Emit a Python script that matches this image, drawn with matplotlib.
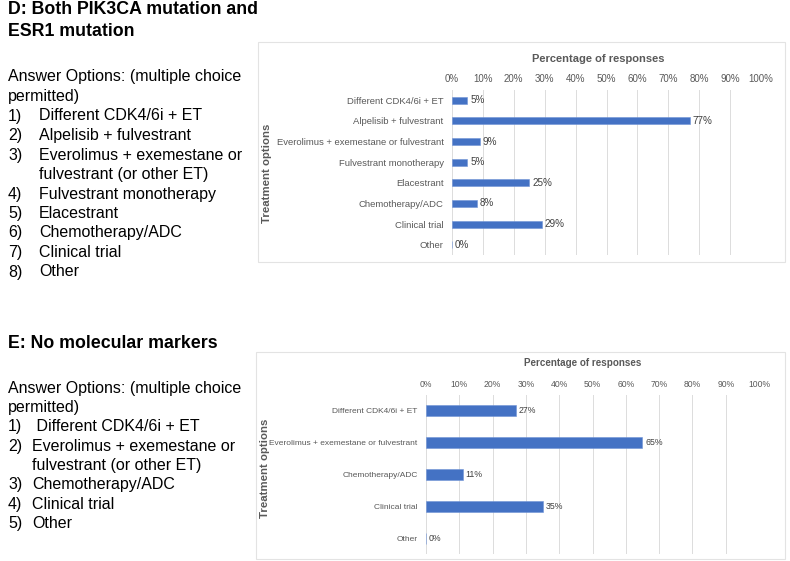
import matplotlib.pyplot as plt
from matplotlib.patches import Rectangle

plt.rcParams['font.family'] = ['Liberation Sans', 'DejaVu Sans']

# panel D data
d_options = ['Different CDK4/6i + ET', 'Alpelisib + fulvestrant',
             'Everolimus + exemestane or fulvestrant', 'Fulvestrant monotherapy',
             'Elacestrant', 'Chemotherapy/ADC', 'Clinical trial', 'Other']
d_pct = [5, 77, 9, 5, 25, 8, 29, 0]

# panel E data
e_options = ['Different CDK4/6i + ET', 'Everolimus + exemestane or fulvestrant',
             'Chemotherapy/ADC', 'Clinical trial', 'Other']
e_pct = [27, 65, 11, 35, 0]

x_ticks = list(range(0, 101, 10))

d_list = [('', 'Answer Options: (multiple choice'), ('', 'permitted)'),
          ('1)', 'Different CDK4/6i + ET'), ('2)', 'Alpelisib + fulvestrant'),
          ('3)', 'Everolimus + exemestane or'), ('', 'fulvestrant (or other ET)'),
          ('4)', 'Fulvestrant monotherapy'), ('5)', 'Elacestrant'),
          ('6)', 'Chemotherapy/ADC'), ('7)', 'Clinical trial'), ('8)', 'Other')]
e_list = [('', 'Answer Options: (multiple choice'), ('', 'permitted)'),
          ('1)', ' Different CDK4/6i + ET'), ('2)', 'Everolimus + exemestane or'),
          ('', 'fulvestrant (or other ET)'), ('3)', 'Chemotherapy/ADC'),
          ('4)', 'Clinical trial'), ('5)', 'Other')]

W, H = 790, 561
fig = plt.figure(figsize=(7.9, 5.61), dpi=100)

BAR = '#4472C4'
GRID = '#dcdcdc'
TXT = '#595959'


def px(x, y):
    return x / W, 1 - y / H


def panel(box, ax_rect, options, pct, bar_h, title_xy, ylab_xy, fs):
    bx0, by0, bx1, by1 = box
    fig.patches.append(Rectangle(px(bx0, by1), (bx1 - bx0) / W, (by1 - by0) / H,
                                 transform=fig.transFigure, fill=False,
                                 edgecolor='#e3e3e3', linewidth=0.8))
    l, t, r, b = ax_rect
    ax = fig.add_axes([l / W, 1 - b / H, (r - l) / W, (b - t) / H])
    ypos = list(range(len(options)))
    bars = ax.barh(ypos, pct, height=bar_h, color=BAR, edgecolor='#6f93d6', linewidth=0.4, zorder=3)
    ax.bar_label(bars, labels=[f'{v}%' for v in pct], padding=2, fontsize=fs + 0.3, color='#404040')
    ax.set_xlim(0, 100)
    ax.set_ylim(len(options) - 0.5, -0.5)
    ax.set_yticks(ypos)
    ax.set_yticklabels(options, fontsize=fs, color=TXT)
    ax.set_xticks(x_ticks)
    ax.set_xticklabels([f'{v}%' for v in x_ticks], fontsize=fs + 0.2, color=TXT)
    ax.xaxis.tick_top()
    ax.tick_params(axis='y', length=0, pad=6)
    ax.tick_params(axis='x', length=0, pad=4.5)
    for s in ax.spines.values():
        s.set_visible(False)
    ax.grid(axis='x', color=GRID, linewidth=0.7, zorder=0)
    fig.text(*px(*title_xy), 'Percentage of responses', ha='center', va='center',
             fontsize=fs * 1.18, fontweight='bold', color=TXT)
    fig.text(*px(*ylab_xy), 'Treatment options', ha='center', va='center', rotation=90,
             fontsize=8.2, fontweight='bold', color=TXT)
    return ax


panel((258, 42, 785, 262), (452, 90, 761, 255), d_options, d_pct, 0.34, (598, 59), (267, 173), 6.8)
panel((256, 352, 785, 559), (426, 395, 759, 554), e_options, e_pct, 0.35, (583, 363), (265, 468), 6.0)

# left-hand text
fig.text(*px(8, 10), 'D: Both PIK3CA mutation and', fontsize=12.8, fontweight='bold', va='center')
fig.text(*px(8, 32), 'ESR1 mutation', fontsize=12.8, fontweight='bold', va='center')
fig.text(*px(8, 344), 'E: No molecular markers', fontsize=12.8, fontweight='bold', va='center')


def text_list(items, y0, step, indent):
    for i, (num, txt) in enumerate(items):
        y = y0 + i * step
        if num:
            fig.text(*px(8, y), num, fontsize=11.5, va='center')
        x = indent if (num or txt.startswith('fulvestrant (')) else 8
        fig.text(*px(x, y), txt, fontsize=11.5, va='center')


text_list(d_list, 77, 19.5, 39)
text_list(e_list, 388, 19.4, 32)

fig.savefig('out.png', dpi=100)
